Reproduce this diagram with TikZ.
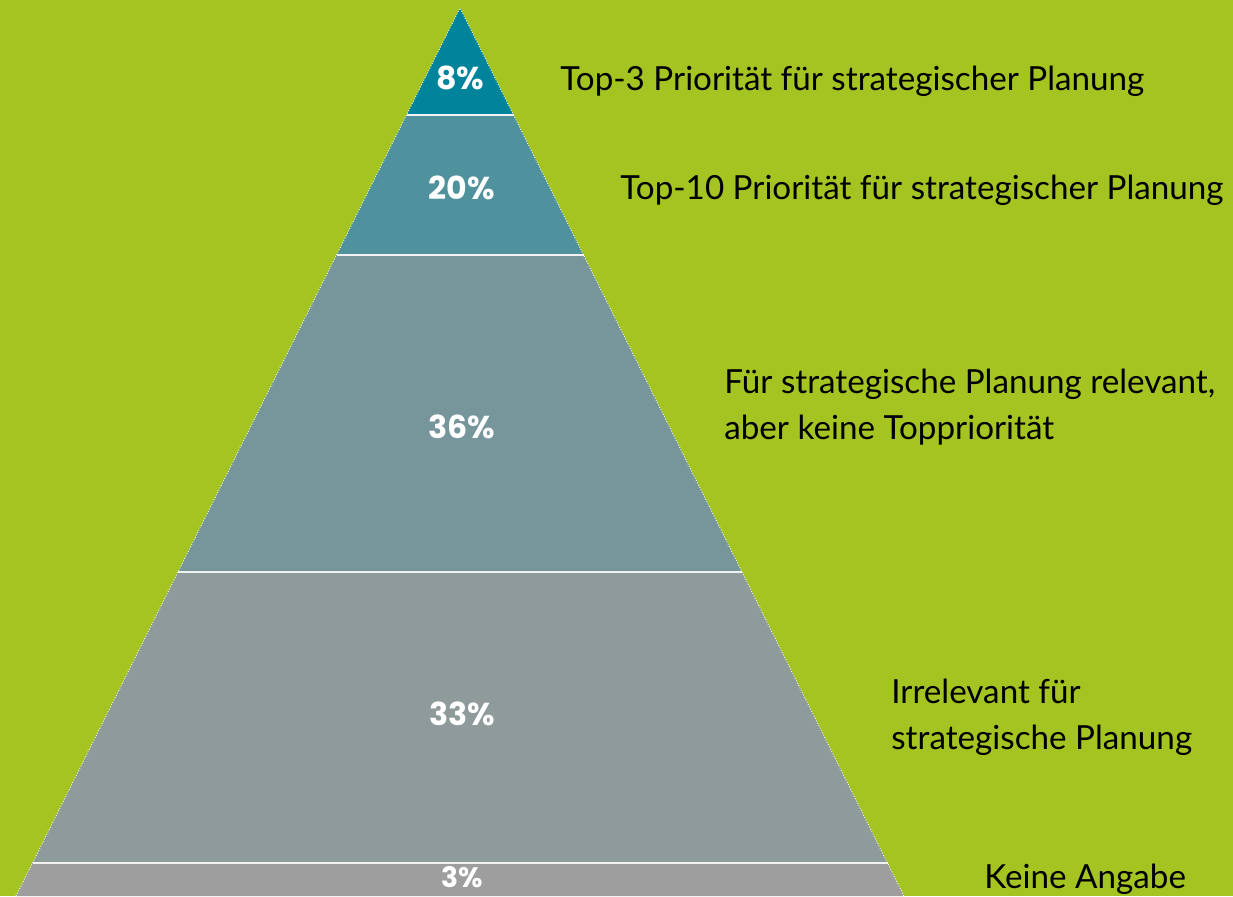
\documentclass[tikz,border=0pt]{standalone}
\usepackage{fontspec}
\setmainfont{Lato}
\newfontfamily\pctfont{Poppins}

\definecolor{bggreen}{HTML}{A4C422}
\definecolor{tierA}{HTML}{00849C}
\definecolor{tierB}{HTML}{4F929E}
\definecolor{tierC}{HTML}{76969B}
\definecolor{tierD}{HTML}{8E9B9A}
\definecolor{tierE}{HTML}{9E9E9E}

\tikzset{
  pct/.style={text=white, font=\pctfont\bfseries\fontsize{18}{22}\selectfont, anchor=base, inner sep=0pt},
  lbl/.style={text=black, font=\fontsize{18.9}{26}\selectfont, anchor=base west, align=left, inner sep=0pt}
}

\begin{document}
\begin{tikzpicture}[x=0.02cm, y=-0.02cm]

        % Background
        \fill[bggreen] (0,0) rectangle (1233,896);
        \useasboundingbox (0,0) rectangle (1233,896);

        % Pyramid tiers
        \fill[tierA] (460,8) -- (513.5,115) -- (406.5,115) -- cycle;
        \fill[tierB] (406.5,115) -- (513.5,115) -- (583.5,255) -- (336.5,255) -- cycle;
        \fill[tierC] (336.5,255) -- (583.5,255) -- (742,572) -- (178,572) -- cycle;
        \fill[tierD] (178,572) -- (742,572) -- (887.5,863) -- (32.5,863) -- cycle;
        \fill[tierE] (32.5,863) -- (887.5,863) -- (904,896) -- (16,896) -- cycle;

        % Separators between tiers
        \draw[white!90!gray, line width=1.1pt] (406.5,115) -- (513.5,115);
        \draw[white!90!gray, line width=1.1pt] (336.5,255) -- (583.5,255);
        \draw[white!90!gray, line width=1.1pt] (178,572) -- (742,572);
        \draw[white!90!gray, line width=1.1pt] (32.5,863) -- (887.5,863);

        % Outline of the pyramid
        \draw[white, line width=0.5pt, densely dotted] (16,896) -- (460,8) -- (904,896);

        % Shares
        \node[pct] (p8) at (460,89) {8\%};
        \node[pct] (p20) at (462,199) {20\%};
        \node[pct] (p36) at (462,438) {36\%};
        \node[pct] (p33) at (462,725) {33\%};
        \node[pct, font=\pctfont\bfseries\fontsize{16}{20}\selectfont] (p3) at (462,887) {3\%};

        % Descriptions
        \node[lbl] (top3) at (560,90) {Top-3 Priorität für strategischer Planung};
        \node[lbl] (top10) at (620,199) {Top-10 Priorität für strategischer Planung};
        \node[lbl] (relevant) at (724,439) {Für strategische Planung relevant,\\aber keine Toppriorität};
        \node[lbl] (irrelevant) at (891,749) {Irrelevant für\\strategische Planung};
        \node[lbl] (none) at (984,888) {Keine Angabe};

\end{tikzpicture}
\end{document}
